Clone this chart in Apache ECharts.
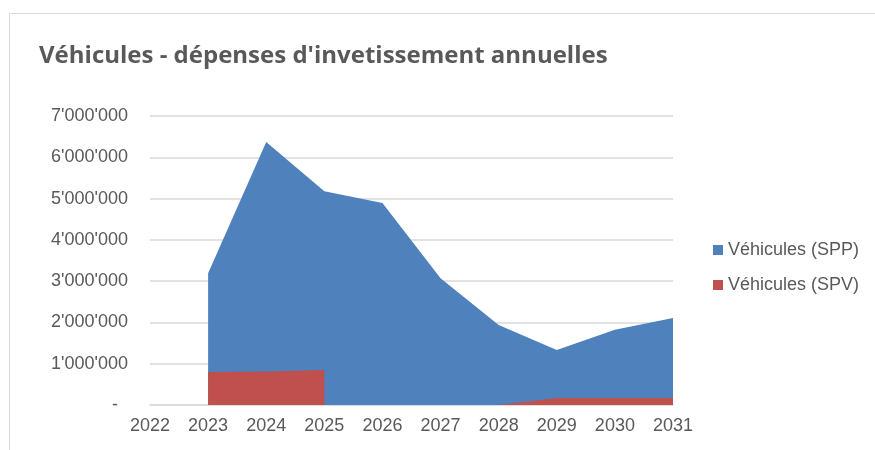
<!DOCTYPE html>
<html>
<head>
<meta charset="utf-8">
<script src="https://cdn.jsdelivr.net/npm/echarts@6/dist/echarts.min.js"></script>
<style>
  html, body { margin: 0; padding: 0; background: #fff; }
  #main { width: 875px; height: 450px; }
</style>
</head>
<body>
<div id="main"></div>
<script>
// données
var years = ['2022', '2023', '2024', '2025', '2026', '2027', '2028', '2029', '2030', '2031'];
var vehiculesSPP = [null, 2390000, 5560000, 4330000, 4890000, 3070000, 1940000, 1160000, 1650000, 1940000];
var vehiculesSPV = [null, 800000, 810000, 850000, null, null, 0, 170000, 170000, 170000];
var yTicks = [0, 1000000, 2000000, 3000000, 4000000, 5000000, 6000000, 7000000];

// empilement à la main (SPV en bas, SPP au dessus)
var totalSPP = vehiculesSPP.map(function (v, i) {
    return v == null ? null : v + (vehiculesSPV[i] || 0);
});

function fmt(v) {
    if (v === 0) return '-  ';
    return String(v).replace(/\B(?=(\d{3})+(?!\d))/g, "'");
}

var grey = '#595959';
var myChart = echarts.init(document.getElementById('main'));
myChart.setOption({
    animation: false,
    title: {
        text: "Véhicules - dépenses d'invetissement annuelles",
        left: 34, top: 39,
        textStyle: { fontFamily: 'Open Sans', fontWeight: 'bold', fontSize: 24, color: grey }
    },
    graphic: [{
        type: 'rect',
        shape: { x: 9.5, y: 13.5, width: 900, height: 500 },
        style: { fill: null, stroke: '#d9d9d9', lineWidth: 1 },
        silent: true
    }],
    legend: {
        orient: 'vertical',
        left: 708, top: 236,
        itemWidth: 10, itemHeight: 10, itemGap: 17,
        icon: 'rect',
        textStyle: { fontFamily: 'Liberation Sans', fontSize: 18, color: grey },
        data: ['Véhicules (SPP)', 'Véhicules (SPV)']
    },
    grid: { left: 150, right: 202, top: 116, bottom: 45 },
    xAxis: {
        type: 'category',
        data: years,
        boundaryGap: false,
        axisLine: { lineStyle: { color: '#d9d9d9', width: 1.5 } },
        axisTick: { show: false },
        axisLabel: { margin: 12, fontFamily: 'Liberation Sans', fontSize: 18, color: grey }
    },
    yAxis: {
        type: 'value',
        min: yTicks[0], max: yTicks[yTicks.length - 1], interval: 1000000,
        axisLine: { show: false },
        axisTick: { show: false },
        splitLine: { lineStyle: { color: '#d9d9d9', width: 1.5 } },
        axisLabel: { margin: 22, fontFamily: 'Liberation Sans', fontSize: 18, color: grey, formatter: fmt }
    },
    series: [{
        name: 'Véhicules (SPP)',
        type: 'line',
        data: totalSPP,
        showSymbol: false,
        lineStyle: { width: 0 },
        itemStyle: { color: '#4f81bd' },
        areaStyle: { color: '#4f81bd', opacity: 1 },
        z: 2
    }, {
        name: 'Véhicules (SPV)',
        type: 'line',
        data: vehiculesSPV,
        showSymbol: false,
        connectNulls: false,
        lineStyle: { width: 0 },
        itemStyle: { color: '#c0504d' },
        areaStyle: { color: '#c0504d', opacity: 1 },
        z: 3
    }]
});
</script>
</body>
</html>
